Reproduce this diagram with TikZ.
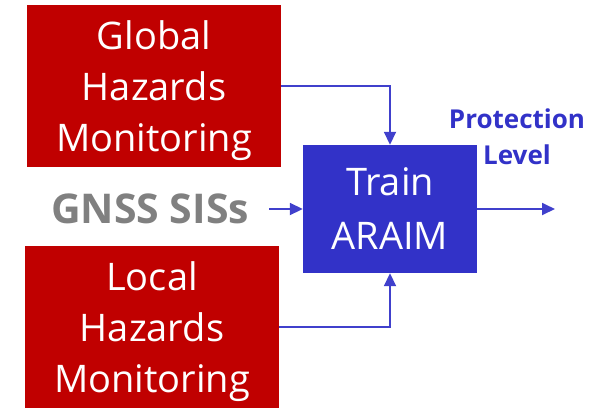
\documentclass[tikz,border=0pt]{standalone}
\usepackage{fontspec}
\setmainfont{Open Sans}
\usepackage{tikz}
\usetikzlibrary{
  positioning,
  arrows.meta
}
\definecolor{boxRed}{HTML}{C00000}
\definecolor{boxBlue}{HTML}{3232C8}
\definecolor{lineBlue}{HTML}{4040CC}
\definecolor{textGray}{HTML}{808080}
\tikzstyle{block}=[inner sep=0pt, align=center, text=white, font=\fontsize{38}{51}\selectfont]
\tikzstyle{hazard}=[block, fill=boxRed, minimum width=254pt, minimum height=162pt, text depth=-7pt]
\tikzstyle{flow}=[-{Triangle[length=13pt, width=12pt]}, lineBlue, line width=1.8pt]

\begin{document}
\begin{tikzpicture}[x=1pt, y=-1pt]
      \useasboundingbox (0,0) rectangle (592,408);

      % 監視ブロック
      \node[hazard] (global) at (154,86) {Global\\Hazards\\Monitoring};
      \node[hazard] (local) at (152,327) {Local\\Hazards\\Monitoring};

      % ARAIMブロック
      \node[block, fill=boxBlue, minimum width=174pt, minimum height=128pt, font=\fontsize{38}{54}\selectfont] (train) at (390,209) {Train\\ARAIM};

      % 入力と出力のラベル
      \node[text=textGray, font=\fontsize{41}{48}\bfseries\selectfont, inner sep=0pt] (gnss) at (150,209) {GNSS SISs};
      \node[text=boxBlue, font=\fontsize{26}{36}\bfseries\selectfont, align=center, inner sep=0pt] (plevel) at (517,137) {Protection\\Level};
      \coordinate (out) at (555,209);

      % 矢印
      \draw[flow] (global.east) -| (train.north);
      \draw[flow] (local.east) -| (train.south);
      \draw[flow, shorten <=20pt] (gnss.east) -- (train.west);
      \draw[flow] (train.east) -- (out);
    \end{tikzpicture}
\end{document}
